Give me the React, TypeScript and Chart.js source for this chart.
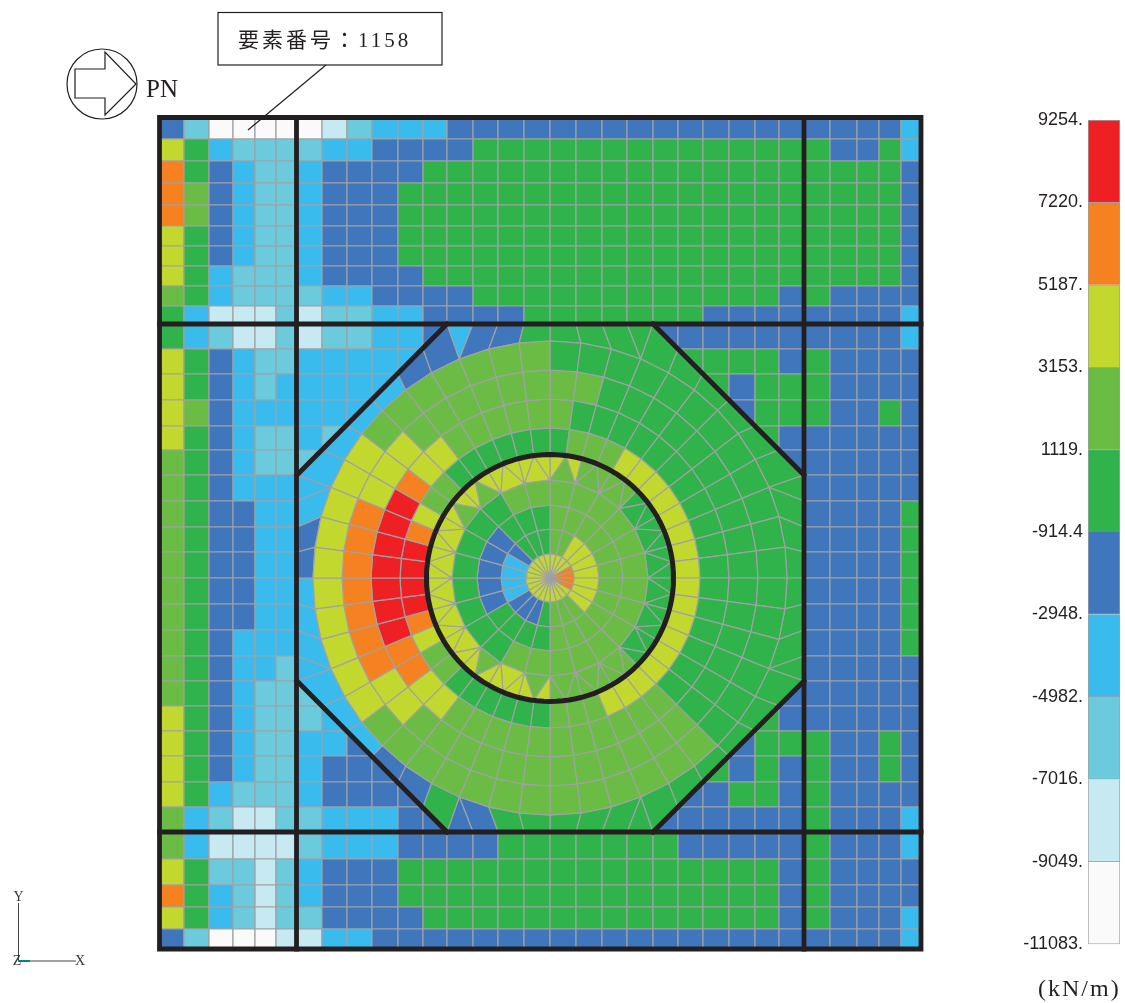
import React, { useEffect, useRef } from "react";
import { Chart, registerables } from "chart.js";

Chart.register(...registerables);

// ---- data ----------------------------------------------------------------
// Legend band edges, top to bottom (kN/m)
const legendLevels = [9254, 7220, 5187, 3153, 1119, -914.4, -2948, -4982, -7016, -9049, -11083];
// Band letter, bottom band first
const bandKeys = ["W", "L", "T", "S", "B", "G", "N", "Y", "O", "R"];
const bandColors = ["#FAFAFA", "#C7E9F1", "#6BCBDC", "#3ABBEE", "#4076BC", "#30B34B", "#6BBC45", "#C3D82F", "#F68121", "#EE2024"];

// Mesh node coordinates of the plate
const xNodes = [0, 24, 49, 73, 95, 116, 137, 162, 187, 212, 238, 263, 287, 313, 338, 364, 390, 416, 442, 467, 493, 518, 543, 569, 595, 619, 644, 670, 697, 719, 741, 760];
const yNodes = [830, 809, 787, 765, 743, 722, 702, 682, 662, 642, 624, 599, 574, 548, 522, 498, 473, 447, 421, 396, 370, 344, 318, 292, 267, 242, 217, 192, 166, 141, 116, 89, 63, 41, 19, 0];

// Band of each outer plate element, row by row from the top ("." lies under the opening mesh)
const gridRows = [
  "BTWWWW WLTSSS BBBBBBBBBBBBBB BBBB S",
  "YGSTTT TSSBBB BGGGGGGGGGGGGG GBBG S",
  "OGBSTT SBBBBG GGGGGGGGGGGGGG GGGG B",
  "ONBSTT SBBBGG GGGGGGGGGGGGGG GGGG B",
  "ONBSTT SBBBGG GGGGGGGGGGGGGG GGGG B",
  "YGBSTT SBBBGG GGGGGGGGGGGGGG GGGG B",
  "YGBSTT SBBBGG GGGGGGGGGGGGGG GGGG B",
  "YGSTTT SBBBBG GGGGGGGGGGGGGG GGGG B",
  "NGSTTT TSSBBB BGGGGGGGGGGGGB GBBB B",
  "GSLLLT LTTSSB BBBGGGGGGGBBBB BBBB S",
  "GSTLLT LTTSSB ........BBBBBB BBBB S",
  "YGBSTT SSSSS. .........GGGGB GBBB B",
  "YGBSTS SSSSS. ..........GBGG GBBB B",
  "YNBSSS SSSS.. ...........BGG GBBG B",
  "YGBSTT STS... ............GB BBBB B",
  "NGBSTT TS.... .............B BBBB B",
  "NGBSSS ...... .............. BBBB B",
  "NGBBSS ...... .............. BBBB G",
  "NGBBSS ...... .............. BBBB G",
  "NGBBSS ...... .............. BBBB G",
  "NGBBSS ...... .............. BBBB G",
  "NGBBSS ...... .............. BBBB G",
  "NGBSSS ...... .............. BBBB G",
  "NGBSST ...... .............. BBBB B",
  "NGBSTT T..... .............B BBBB B",
  "YGBSTT TS.... ............GB BBBB B",
  "YGBSTT SSB... ...........BGG GBBG B",
  "YGBSTT SBBB.. ..........GBGB GBBG B",
  "YGSTTT SBBBB. .........BBGGB GBBB B",
  "NSTLLT TSSSBB ........BBBBBB GBBB S",
  "NSLLLL TSSSBB BBGGGGGGGBBBBB GBBB S",
  "YGTTLT SBBBGG GGGGGGGGGGGGGB GBBB B",
  "OGSTLT SBBBGG GGGGGGGGGGGGGB GBBB B",
  "YGSTLT TBBBBG GGGGGGGGGGGGGB GBBB S",
  "BTWWWL LSSBBB BBBBBBBBBBBBBB BBBB S",
];

// Opening mesh: radii of the rings, and the band of each element clockwise from north
const ringRadii = [24, 49, 73, 98, 123, 150, 179, 208, 237];
const centreX = 390;
const centreY = 370;
const wallRadius = 123.5;
const ring0 = "YYYY OOOO YYYYYYYYYYYYYYYY";
const ring1 = "NN YYYYYYY NNN G BBB SS SS B GGG";
const ring2 = "NNNNNNNNNNNN GGGG BBBBB GGG";
const ring3 = "NNNNNNNNNNNNNN GGGGGGGG NN";
const ring4 = "YNY NNN NNN GGG GGG GGG GGG GGG GGG NNN NNN NNN YNY YYY YNY YYY YYY YYY YYY YYY YNY YNY YYY YYY";
const ring5 = "G NNN YYYYYYYYYYYYYYYYY NNN GGGGGG NN Y O RRRR O Y NN GGGGGG";
const ring6 = "N GGGGGGGGGGGGGGGGG NNNNNNNNNNN YY OO RRRRRRR O YY NNNNN";
const ring7 = "NN GGGGGGGGGGGGGGGG NNNNNNNNNNNN YY OOOOOOO YYY NNNNNN";
const ring8 = "GGGGGGGGGGGGGGGGGG NNNNNNNNNNNNN YYYYYYYYYY NNNNNNN";
const ring9 = "GGGGGGGGGGGGGG GGGGGGGGGGGGGG GGBBGBBSSSSSSS BBSSSSSSBBSBBG";

// Text
const calloutText = "要素番号：1158";
const directionText = "PN";
const unitText = "(kN/m)";

// ---- helpers ---------------------------------------------------------------
type P = { x: number; y: number };
const MESH_LINE = "#A0A1A5";
const INK = "#231F20";
const strip = (s: string) => s.replace(/ /g, "");
const colorOf = (k: string) => bandColors[bandKeys.indexOf(k)];
const polar = (r: number, deg: number): P => ({
  x: centreX + r * Math.sin((deg * Math.PI) / 180),
  y: centreY + r * Math.cos((deg * Math.PI) / 180),
});
const node = (i: number, j: number): P => ({ x: xNodes[i], y: yNodes[j] });

function outerBoundary(): P[] {
  const b: P[] = [];
  for (let i = 16; i <= 20; i++) b.push(node(i, 10));
  for (let k = 1; k <= 6; k++) b.push(node(20 + k, 10 + k));
  for (let j = 17; j <= 24; j++) b.push(node(26, j));
  for (let k = 1; k <= 6; k++) b.push(node(26 - k, 24 + k));
  for (let i = 19; i >= 12; i--) b.push(node(i, 30));
  for (let k = 1; k <= 6; k++) b.push(node(12 - k, 30 - k));
  for (let j = 23; j >= 16; j--) b.push(node(6, j));
  for (let k = 1; k <= 6; k++) b.push(node(6 + k, 16 - k));
  for (let i = 13; i <= 15; i++) b.push(node(i, 10));
  return b;
}

function cell(points: P[], key: string) {
  return {
    data: [...points, points[0]],
    cellFill: colorOf(key),
    borderColor: MESH_LINE,
    borderWidth: 1.2,
    showLine: true,
    pointRadius: 0,
    pointHoverRadius: 0,
    clip: false as const,
  };
}

function heavy(points: P[], width = 4.8) {
  return {
    data: points,
    borderColor: INK,
    borderWidth: width,
    borderCapStyle: "square" as const,
    borderJoinStyle: "miter" as const,
    showLine: true,
    pointRadius: 0,
    pointHoverRadius: 0,
    clip: false as const,
  };
}

function buildDatasets() {
  const sets: any[] = [];
  // outer plate
  gridRows.forEach((row, r) => {
    strip(row).split("").forEach((key, c) => {
      if (key === ".") return;
      sets.push(cell([node(c, r), node(c + 1, r), node(c + 1, r + 1), node(c, r + 1)], key));
    });
  });
  // ring between the octagon and the last circle
  const b = outerBoundary();
  const r9 = strip(ring9);
  const rLast = ringRadii[8];
  let v = 0;
  b.forEach((p, i) => {
    const q = b[(i + 1) % b.length];
    const seg = i % 14;
    if (seg === 3 || seg === 10) {
      sets.push(cell([polar(rLast, v * 7.5), p, q], r9[i]));
    } else {
      sets.push(cell([polar(rLast, v * 7.5), polar(rLast, (v + 1) * 7.5), q, p], r9[i]));
      v++;
    }
  });
  // rings with 48 elements
  [ring5, ring6, ring7, ring8].forEach((ring, n) => {
    const ri = ringRadii[4 + n];
    const ro = ringRadii[5 + n];
    strip(ring).split("").forEach((key, s) => {
      const a = s * 7.5;
      const e = (s + 1) * 7.5;
      sets.push(cell([polar(ri, a), polar(ro, a), polar(ro, e), polar(ri, e)], key));
    });
  });
  // transition ring: three triangles per 15 degrees
  strip(ring4).split("").forEach((key, i) => {
    const k = Math.floor(i / 3);
    const part = i % 3;
    const a = k * 15;
    const m = a + 7.5;
    const e = a + 15;
    const ri = ringRadii[3];
    const ro = ringRadii[4];
    if (part === 0) sets.push(cell([polar(ri, a), polar(ro, a), polar(ro, m)], key));
    if (part === 1) sets.push(cell([polar(ri, a), polar(ro, m), polar(ri, e)], key));
    if (part === 2) sets.push(cell([polar(ri, e), polar(ro, m), polar(ro, e)], key));
  });
  // inner rings with 24 elements
  [ring1, ring2, ring3].forEach((ring, n) => {
    const ri = ringRadii[n];
    const ro = ringRadii[n + 1];
    strip(ring).split("").forEach((key, s) => {
      const a = s * 15;
      const e = (s + 1) * 15;
      sets.push(cell([polar(ri, a), polar(ro, a), polar(ro, e), polar(ri, e)], key));
    });
  });
  strip(ring0).split("").forEach((key, s) => {
    sets.push(cell([{ x: centreX, y: centreY }, polar(ringRadii[0], s * 15), polar(ringRadii[0], (s + 1) * 15)], key));
  });
  // heavy members
  const L = xNodes[6];
  const R = xNodes[26];
  const T = yNodes[10];
  const Bm = yNodes[30];
  const fx0 = -0.5;
  const fx1 = 761;
  const fy0 = -1;
  const fy1 = 830.5;
  const pt = (x: number, y: number): P => ({ x, y });
  sets.push(heavy([pt(fx0, fy1), pt(fx1, fy1), pt(fx1, fy0), pt(fx0, fy0), pt(fx0, fy1)]));
  sets.push(heavy([pt(L - 0.5, fy1), pt(L - 0.5, fy0)]));
  sets.push(heavy([pt(R, fy1), pt(R, fy0)]));
  sets.push(heavy([pt(fx0, T), pt(fx1, T)]));
  sets.push(heavy([pt(fx0, Bm), pt(fx1, Bm)]));
  sets.push(heavy([pt(L, yNodes[16]), pt(xNodes[12], T)]));
  sets.push(heavy([pt(xNodes[20], T), pt(R, yNodes[16])]));
  sets.push(heavy([pt(R, yNodes[24]), pt(xNodes[20], Bm)]));
  sets.push(heavy([pt(xNodes[12], Bm), pt(L, yNodes[24])]));
  const wall: P[] = [];
  for (let deg = 0; deg <= 360; deg += 3) wall.push(polar(wallRadius, deg));
  sets.push(heavy(wall, 5));
  // Chart.js paints the last dataset first
  return sets.reverse();
}

const cellFillPlugin = {
  id: "cellFill",
  beforeDatasetDraw(chart: any, args: any) {
    const ds = chart.data.datasets[args.index];
    if (!ds.cellFill) return;
    const pts = args.meta.data;
    const ctx = chart.ctx;
    ctx.save();
    ctx.beginPath();
    pts.forEach((p: any, i: number) => (i ? ctx.lineTo(p.x, p.y) : ctx.moveTo(p.x, p.y)));
    ctx.closePath();
    ctx.fillStyle = ds.cellFill;
    ctx.fill();
    ctx.restore();
  },
};

const decorationPlugin = {
  id: "decoration",
  afterDraw(chart: any) {
    const ctx = chart.ctx;
    ctx.save();
    ctx.strokeStyle = INK;
    ctx.fillStyle = INK;
    ctx.lineWidth = 1.2;
    // callout
    ctx.strokeRect(218, 12.5, 224, 52.5);
    ctx.beginPath();
    ctx.moveTo(326, 65);
    ctx.lineTo(248, 130);
    ctx.stroke();
    ctx.textBaseline = "alphabetic";
    ctx.textAlign = "left";
    ctx.font = '21px "Liberation Serif", "Noto Sans CJK JP"';
    (ctx as any).letterSpacing = "3px";
    ctx.fillText(calloutText, 238, 47);
    (ctx as any).letterSpacing = "0px";
    // direction mark
    ctx.beginPath();
    ctx.arc(102, 84, 35, 0, Math.PI * 2);
    ctx.stroke();
    ctx.beginPath();
    ctx.moveTo(75, 69);
    ctx.lineTo(105, 69);
    ctx.lineTo(105, 52);
    ctx.lineTo(136, 84);
    ctx.lineTo(105, 115);
    ctx.lineTo(105, 98);
    ctx.lineTo(75, 98);
    ctx.closePath();
    ctx.stroke();
    ctx.font = '25px "Liberation Serif"';
    ctx.fillText(directionText, 146, 97);
    // unit
    ctx.font = '24px "Liberation Serif"';
    (ctx as any).letterSpacing = "2px";
    ctx.fillText(unitText, 1038, 996);
    (ctx as any).letterSpacing = "0px";
    // axes triad
    ctx.strokeStyle = "#444";
    ctx.lineWidth = 1;
    ctx.beginPath();
    ctx.moveTo(18.5, 961);
    ctx.lineTo(18.5, 903);
    ctx.moveTo(18.5, 961);
    ctx.lineTo(76, 961);
    ctx.stroke();
    ctx.strokeStyle = "#00857C";
    ctx.lineWidth = 2;
    ctx.beginPath();
    ctx.moveTo(18, 961);
    ctx.lineTo(30, 961);
    ctx.stroke();
    ctx.fillStyle = "#333";
    ctx.font = '14px "Liberation Serif"';
    ctx.textAlign = "center";
    ctx.textBaseline = "middle";
    ctx.fillText("Y", 18.5, 897);
    ctx.fillText("X", 80, 961.5);
    ctx.fillText("Z", 17, 961.5);
    ctx.restore();
  },
};

const tickText = (v: number) => (String(v).includes(".") ? String(v) : `${v}.`);

export default function App() {
  const mainRef = useRef<HTMLCanvasElement>(null);
  const barRef = useRef<HTMLCanvasElement>(null);

  useEffect(() => {
    const main = new Chart(mainRef.current!, {
      type: "scatter",
      data: { datasets: buildDatasets() },
      options: {
        animation: false,
        responsive: false,
        devicePixelRatio: 1,
        events: [],
        layout: { padding: { left: 160, right: 205, top: 118, bottom: 55 } },
        plugins: { legend: { display: false }, tooltip: { enabled: false } },
        scales: {
          x: { type: "linear", min: 0, max: 760, display: false },
          y: { type: "linear", min: 0, max: 830, display: false },
        },
      },
      plugins: [cellFillPlugin, decorationPlugin],
    } as any);

    const levels = [...legendLevels].reverse();
    const bar = new Chart(barRef.current!, {
      type: "bar",
      data: {
        labels: ["band"],
        datasets: bandKeys.map((k, i) => ({
          label: k,
          data: [[levels[i], levels[i + 1]]],
          backgroundColor: bandColors[i],
          borderColor: MESH_LINE,
          borderWidth: 1,
          grouped: false,
          barPercentage: 1,
          categoryPercentage: 1,
        })),
      },
      options: {
        animation: false,
        responsive: false,
        devicePixelRatio: 1,
        events: [],
        layout: { padding: { left: 0, right: 5, top: 20, bottom: 14 } },
        plugins: { legend: { display: false }, tooltip: { enabled: false } },
        scales: {
          x: { display: false },
          y: {
            type: "linear",
            min: legendLevels[legendLevels.length - 1],
            max: legendLevels[0],
            afterBuildTicks: (s: any) => {
              s.ticks = legendLevels.map((value) => ({ value }));
            },
            afterFit: (s: any) => {
              s.width = 88;
            },
            grid: { display: false, drawTicks: false, tickLength: 0 },
            border: { display: false },
            ticks: {
              autoSkip: false,
              padding: 5,
              color: INK,
              font: { family: '"Liberation Sans"', size: 18 },
              callback: (v: any) => tickText(Number(v)),
            },
          },
        },
      },
    } as any);

    return () => {
      main.destroy();
      bar.destroy();
    };
  }, []);

  return (
    <div style={{ position: "absolute", left: 0, top: 0, width: 1125, height: 1003, background: "#fff" }}>
      <canvas ref={mainRef} width={1125} height={1003} style={{ position: "absolute", left: 0, top: 0, display: "block" }} />
      <canvas ref={barRef} width={125} height={860} style={{ position: "absolute", left: 1000, top: 100, display: "block" }} />
    </div>
  );
}
